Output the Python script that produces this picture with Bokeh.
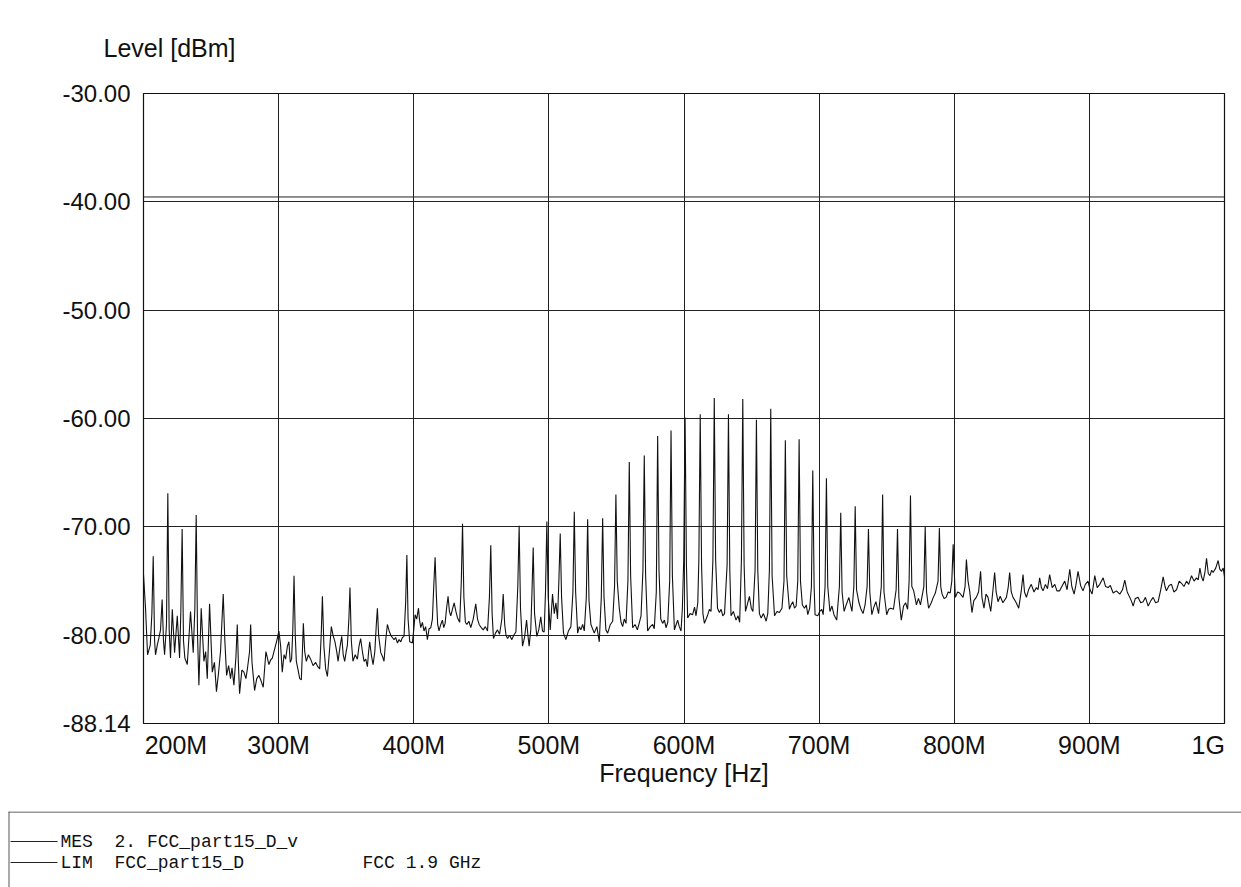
from bokeh.plotting import figure
from bokeh.models import Range1d, FixedTicker, PrintfTickFormatter
from bokeh.embed import file_html
from bokeh.resources import INLINE
from bokeh.core.properties import value

# ---------------- data (frequency in MHz, level in dBm) ----------------
mes_200_300 = [
    (200.0, -74.4), (201.5, -77.5), (203.0, -81.8), (205.0, -80.9), (206.2, -78.0), (207.2, -72.7),
    (208.2, -80.5), (208.9, -81.8), (210.2, -80.9), (211.3, -80.3), (212.6, -79.5), (213.8, -76.7),
    (214.8, -80.5), (215.6, -81.8), (217.0, -79.0), (218.0, -66.9), (219.0, -79.5), (220.0, -82.1),
    (221.3, -77.6), (223.0, -81.6), (225.0, -78.2), (226.7, -82.1), (227.6, -78.0), (228.6, -70.2),
    (229.6, -80.5), (230.6, -82.1), (232.4, -82.7), (234.8, -77.8), (236.8, -81.6), (238.0, -77.5),
    (239.0, -68.9), (240.0, -80.0), (241.0, -84.6), (242.7, -77.5), (244.7, -82.4), (246.0, -81.5),
    (247.2, -84.0), (248.9, -77.1), (250.9, -83.4), (252.5, -82.5), (254.0, -85.2), (255.5, -83.5),
    (257.0, -81.5), (259.0, -76.2), (260.2, -80.5), (261.5, -83.7), (263.0, -82.8), (264.4, -84.0),
    (265.5, -83.0), (266.9, -84.6), (268.4, -82.0), (269.4, -79.0), (270.2, -82.5), (271.1, -85.4),
    (272.8, -83.2), (274.3, -83.4), (275.8, -84.0), (277.0, -83.0), (278.5, -81.5), (279.3, -79.0),
    (280.3, -82.5), (282.2, -85.1), (283.8, -84.0), (285.4, -83.7), (287.0, -84.2), (288.6, -84.8),
    (290.6, -81.5), (292.8, -82.7), (294.0, -82.3), (295.3, -82.1), (297.2, -81.2), (299.0, -80.3),
    (300.2, -79.6),
]
mes_300_400 = [
    (301.5, -81.0), (302.7, -83.4), (304.0, -81.8), (305.2, -82.2), (306.5, -81.0), (307.6, -80.6),
    (308.6, -82.5), (309.6, -82.2), (310.5, -79.5), (311.4, -74.5), (312.3, -80.0), (313.1, -82.4),
    (314.4, -83.2), (315.6, -84.0), (316.8, -84.1), (317.6, -81.5), (318.3, -78.9), (319.3, -81.5),
    (320.5, -82.4), (322.0, -81.8), (323.7, -82.2), (325.5, -82.8), (327.4, -82.5), (329.0, -82.9),
    (330.4, -83.1), (331.5, -80.0), (332.4, -76.4), (333.5, -81.0), (334.8, -83.1), (336.1, -83.8),
    (337.6, -81.5), (339.0, -79.2), (340.3, -80.0), (341.7, -80.6), (343.0, -81.5), (344.0, -82.4),
    (345.5, -81.0), (346.7, -80.1), (347.8, -81.8), (348.9, -82.4), (350.0, -81.5), (350.9, -80.9),
    (352.0, -78.5), (352.8, -75.6), (353.8, -80.5), (355.0, -82.4), (356.7, -81.8), (358.3, -82.2),
    (359.5, -81.0), (360.7, -80.3), (362.0, -81.5), (363.2, -82.4), (364.5, -82.2), (365.7, -82.9),
    (366.6, -81.5), (367.4, -80.6), (368.6, -81.8), (369.9, -82.7), (371.2, -81.5), (372.3, -79.0),
    (373.1, -77.5), (374.0, -80.0), (375.6, -81.6), (377.0, -82.0), (378.0, -82.4), (379.2, -80.5),
    (380.5, -79.0), (381.8, -79.6), (383.0, -80.0), (384.2, -80.2), (385.4, -80.4), (386.6, -80.2),
    (387.9, -80.7), (389.2, -80.4), (390.4, -80.6), (391.6, -80.2), (392.8, -80.1), (394.0, -77.0),
    (394.9, -72.6), (395.8, -78.5), (397.0, -80.6), (399.0, -80.7), (400.0, -79.5),
]
mes_400_500 = [
    (401.0, -78.1), (402.2, -78.5), (403.5, -77.5), (404.3, -78.6), (405.2, -79.3), (406.4, -78.8),
    (407.6, -79.6), (408.8, -79.2), (410.1, -80.4), (411.3, -79.4), (412.6, -79.3), (413.8, -78.5),
    (414.8, -75.5), (415.8, -72.8), (416.8, -76.5), (417.7, -79.0), (418.7, -79.6), (420.0, -79.0),
    (421.2, -78.6), (422.2, -79.3), (423.2, -78.9), (424.3, -77.5), (425.4, -76.4), (426.4, -77.8),
    (427.4, -78.2), (428.6, -77.6), (429.9, -77.0), (431.2, -77.8), (432.4, -78.4), (434.0, -78.8),
    (435.2, -75.0), (436.1, -69.7), (437.1, -76.5), (438.2, -78.8), (439.3, -79.0), (440.8, -78.7),
    (442.2, -79.3), (444.0, -78.5), (445.9, -77.1), (447.2, -78.5), (448.4, -79.0), (450.0, -79.3),
    (451.4, -79.5), (453.0, -79.2), (454.6, -79.6), (456.0, -76.5), (457.0, -71.7), (458.0, -78.0),
    (459.0, -80.3), (460.5, -79.8), (462.0, -79.5), (463.5, -79.9), (465.2, -78.5), (466.2, -76.2),
    (467.3, -79.0), (468.3, -80.0), (469.4, -80.3), (471.0, -80.0), (472.6, -80.4), (474.0, -80.0),
    (475.6, -79.7), (477.0, -75.5), (478.0, -69.9), (479.0, -77.5), (480.5, -81.0), (482.0, -80.2),
    (483.5, -78.6), (484.5, -80.0), (485.4, -81.0), (486.6, -79.5), (487.5, -76.0), (488.4, -71.9),
    (489.4, -78.0), (491.1, -80.1), (492.5, -79.5), (494.0, -78.3), (495.3, -79.6), (496.5, -79.7),
    (497.5, -76.0), (498.5, -69.5), (499.5, -76.5),
]
mes_500_600 = [
    (501.0, -79.5), (502.7, -76.2), (504.0, -78.0), (505.2, -77.0), (506.4, -78.5), (507.4, -75.0),
    (508.4, -70.6), (509.4, -76.5), (510.8, -79.8), (512.6, -80.4), (514.5, -79.6), (516.3, -79.2),
    (517.8, -76.0), (518.8, -68.6), (519.8, -76.0), (521.3, -79.8), (522.5, -79.2), (523.7, -79.5),
    (525.0, -79.0), (526.2, -79.6), (527.7, -76.5), (528.7, -69.3), (529.7, -76.8), (531.1, -79.0),
    (533.6, -79.8), (535.5, -79.2), (537.3, -80.6), (538.8, -76.5), (539.8, -69.2), (540.8, -76.5),
    (542.2, -79.5), (543.5, -79.8), (545.5, -79.0), (547.2, -78.7), (548.6, -75.5), (549.6, -67.0),
    (550.6, -75.0), (552.1, -77.5), (553.4, -78.8), (554.6, -79.2), (555.8, -78.5), (557.1, -78.9),
    (558.5, -75.0), (559.5, -64.0), (560.5, -74.5), (562.0, -79.3), (563.8, -79.0), (565.5, -79.5),
    (567.0, -78.8), (568.2, -78.2), (569.6, -74.0), (570.6, -63.4), (571.6, -74.5), (573.1, -79.6),
    (575.0, -79.2), (576.8, -79.0), (578.0, -79.4), (579.5, -76.0), (580.5, -61.6), (581.5, -74.0),
    (582.8, -78.5), (584.2, -78.9), (585.5, -78.6), (586.7, -79.3), (588.0, -78.8), (589.4, -75.0),
    (590.4, -61.1), (591.4, -74.5), (592.9, -79.5), (594.2, -79.0), (595.3, -78.6), (596.5, -79.2),
    (597.8, -79.6), (598.8, -77.5), (599.8, -73.0), (600.8, -59.9), (601.8, -73.5), (602.7, -78.4),
]
mes_600_700 = [
    (604.5, -78.0), (606.4, -78.1), (607.8, -77.4), (608.9, -78.2), (610.2, -77.0), (611.0, -73.0),
    (612.0, -59.6), (613.0, -73.5), (614.0, -78.0), (615.1, -78.9), (616.4, -78.5), (617.6, -78.1),
    (618.8, -77.6), (620.0, -77.8), (621.4, -73.0), (622.4, -58.1), (623.4, -73.0), (624.8, -77.5),
    (626.2, -77.9), (627.5, -77.6), (628.7, -78.2), (630.0, -78.0), (631.9, -73.5), (632.9, -59.6),
    (633.9, -74.0), (634.8, -78.2), (636.5, -77.8), (638.5, -78.6), (640.0, -78.2), (641.2, -78.8),
    (642.5, -73.0), (643.5, -58.2), (644.5, -73.5), (645.5, -77.8), (646.8, -77.2), (648.4, -76.4),
    (649.8, -77.5), (651.0, -77.8), (652.6, -74.0), (653.6, -60.1), (654.6, -74.0), (655.8, -78.0),
    (657.1, -78.4), (658.8, -78.0), (660.8, -78.7), (662.0, -78.0), (663.2, -74.0), (664.2, -59.1),
    (665.2, -74.5), (667.0, -78.2), (668.8, -77.8), (670.6, -77.9), (672.5, -77.5), (674.0, -75.0),
    (675.0, -62.0), (676.0, -74.5), (678.0, -77.6), (679.2, -77.2), (680.5, -76.9), (681.8, -77.5),
    (683.0, -77.3), (684.2, -75.0), (685.2, -61.9), (686.2, -75.0), (687.6, -77.2), (689.2, -77.5),
    (690.5, -77.2), (691.6, -78.1), (693.0, -77.5), (694.3, -75.5), (695.3, -64.8), (696.3, -75.5),
    (697.0, -78.1), (699.0, -78.2), (700.5, -77.8),
]
mes_700_800 = [
    (702.0, -77.6), (703.0, -78.1), (704.4, -75.5), (705.4, -65.5), (706.4, -75.5), (708.0, -77.8),
    (709.5, -77.3), (711.0, -78.1), (713.0, -78.6), (715.0, -75.5), (716.0, -68.7), (717.0, -76.0),
    (718.5, -77.8), (720.0, -77.2), (722.0, -76.5), (723.2, -77.2), (724.3, -77.8), (725.7, -75.5),
    (726.7, -68.1), (727.7, -75.8), (729.5, -77.0), (731.0, -77.6), (732.5, -78.0), (734.0, -77.2),
    (735.5, -75.5), (736.5, -70.2), (737.5, -76.0), (739.0, -78.1), (740.5, -77.4), (742.0, -76.9),
    (744.0, -78.0), (746.0, -75.5), (747.0, -67.0), (748.0, -76.0), (750.0, -78.1), (751.5, -77.6),
    (753.0, -77.5), (755.0, -77.6), (757.0, -75.8), (758.0, -70.2), (759.0, -76.5), (760.8, -78.6),
    (762.5, -77.3), (764.0, -77.0), (765.5, -77.6), (766.6, -75.0), (767.6, -67.1), (768.6, -75.5),
    (770.0, -75.9), (772.0, -77.2), (773.5, -76.6), (775.0, -77.2), (777.5, -75.5), (778.5, -70.0),
    (779.5, -76.0), (781.0, -77.5), (783.0, -77.0), (784.5, -76.5), (786.0, -76.1), (788.0, -75.0),
    (789.0, -70.1), (790.0, -75.5), (791.0, -76.2), (792.5, -76.6), (794.0, -76.5), (795.5, -76.0),
    (797.0, -76.1), (798.2, -75.0), (799.2, -71.6), (800.8, -76.5),
]
mes_800_1000 = [
    (802.5, -76.0), (804.0, -76.1), (806.5, -76.5), (808.0, -75.5), (809.0, -73.0), (810.2, -75.0),
    (811.4, -75.9), (813.1, -77.9), (814.5, -76.8), (816.3, -76.5), (818.0, -76.0), (819.5, -74.1),
    (820.5, -76.5), (822.0, -77.5), (823.5, -76.2), (825.0, -76.5), (827.0, -77.8), (828.5, -76.0),
    (829.9, -74.2), (831.0, -76.0), (832.4, -76.9), (834.0, -76.4), (836.0, -77.0), (838.6, -76.5),
    (840.0, -75.5), (841.0, -74.2), (842.2, -76.0), (843.5, -76.5), (845.5, -76.9), (847.7, -77.5),
    (849.5, -76.0), (850.9, -74.4), (852.0, -76.0), (853.4, -76.5), (855.0, -75.8), (857.0, -75.3),
    (859.0, -76.0), (860.8, -75.6), (862.0, -75.8), (863.2, -74.7), (864.5, -75.6), (865.7, -75.9),
    (867.5, -75.3), (869.0, -75.7), (870.6, -74.4), (872.5, -75.6), (874.4, -75.3), (876.0, -75.9),
    (878.0, -75.9), (880.0, -75.4), (881.8, -75.0), (883.5, -75.8), (885.5, -73.9), (887.0, -75.5),
    (888.7, -76.2), (890.0, -75.4), (891.6, -74.1), (893.5, -75.4), (895.3, -75.9), (897.0, -75.3),
    (899.0, -75.0), (900.5, -75.8), (902.0, -76.2), (904.0, -74.5), (905.8, -75.6), (907.7, -75.3),
    (910.2, -74.7), (912.0, -75.5), (913.9, -75.6), (915.5, -75.4), (917.6, -76.1), (920.0, -75.9),
    (922.5, -76.2), (924.5, -75.8), (926.2, -74.9), (928.0, -76.0), (929.9, -76.5), (931.0, -76.8),
    (932.4, -77.3), (934.0, -76.6), (936.0, -76.5), (938.0, -77.0), (939.8, -76.9), (941.5, -76.5),
    (943.5, -77.3), (945.5, -76.8), (947.2, -76.5), (949.0, -77.0), (950.9, -76.9), (952.8, -75.8),
    (954.6, -74.6), (956.0, -75.5), (957.0, -75.9), (959.0, -75.4), (960.8, -75.3), (962.5, -76.0),
    (964.5, -75.8), (966.5, -75.0), (968.2, -75.2), (970.0, -75.5), (971.9, -75.0), (973.5, -75.3),
    (975.6, -74.5), (977.5, -75.0), (979.3, -74.7), (980.5, -74.9), (981.8, -73.8), (983.0, -74.6),
    (984.2, -75.0), (985.5, -74.2), (986.7, -72.9), (988.0, -74.3), (989.2, -74.5), (990.5, -74.0),
    (991.6, -74.2), (993.5, -73.8), (995.3, -73.1), (996.5, -73.9), (997.8, -74.1), (999.0, -73.8),
    (1000.0, -74.6),
]

limit_freq = [200.0, 1000.0]
limit_level = [-39.55, -39.55]

grid_x = [200, 300, 400, 500, 600, 700, 800, 900, 1000]
# label anchor positions (first label sits right of its grid line, last one left of it)
x_label_pos = [224, 300, 400, 500, 600, 700, 800, 900, 988]
x_tick_labels = ["200M", "300M", "400M", "500M", "600M", "700M", "800M", "900M", "1G"]
y_ticks = [-88.14, -80, -70, -60, -50, -40, -30]

legend_tags = ["MES", "LIM"]
legend_names = ["2. FCC_part15_D_v", "FCC_part15_D"]
legend_extra = "FCC 1.9 GHz"

# ---------------- assemble trace ----------------
segments = [mes_200_300, mes_300_400, mes_400_500, mes_500_600, mes_600_700, mes_700_800, mes_800_1000]
freq = [f for seg in segments for f, _ in seg]
level = [v for seg in segments for _, v in seg]

FONT = "Liberation Sans"
INK = "#111111"

p = figure(width=1241, height=811, x_range=Range1d(200, 1000), y_range=Range1d(-88.14, -30),
           output_backend="svg", toolbar_location=None,
           min_border_left=143, min_border_right=17, min_border_top=93, min_border_bottom=88)
p.outline_line_color = INK
p.outline_line_width = 1.2

p.xgrid.ticker = FixedTicker(ticks=grid_x)
p.ygrid.ticker = FixedTicker(ticks=y_ticks)
p.xgrid.grid_line_color = "#222222"
p.ygrid.grid_line_color = "#222222"

# title used as the level-axis caption
p.title.text = "Level [dBm]"
p.title.align = "left"
p.title.offset = -40
p.title.standoff = 63
p.title.text_font = FONT
p.title.text_font_size = "25px"
p.title.text_font_style = "normal"
p.title.text_color = INK

# x axis
p.xaxis.ticker = FixedTicker(ticks=x_label_pos)
p.xaxis.major_label_overrides = {t: l for t, l in zip(x_label_pos, x_tick_labels)}
p.xaxis.axis_line_color = None
p.xaxis.major_tick_line_color = None
p.xaxis.minor_tick_line_color = None
p.xaxis.major_tick_in = 0
p.xaxis.major_tick_out = 0
p.xaxis.minor_tick_out = 0
p.xaxis.major_label_standoff = 7
p.xaxis.major_label_text_font = FONT
p.xaxis.major_label_text_font_size = "25px"
p.xaxis.major_label_text_color = INK
p.xaxis.axis_label = "Frequency [Hz]"
p.xaxis.axis_label_text_font = FONT
p.xaxis.axis_label_text_font_size = "25px"
p.xaxis.axis_label_text_font_style = "normal"
p.xaxis.axis_label_text_color = INK
p.xaxis.axis_label_standoff = -3

# y axis
p.yaxis.ticker = FixedTicker(ticks=y_ticks)
p.yaxis.formatter = PrintfTickFormatter(format="%.2f")
p.yaxis.axis_line_color = None
p.yaxis.major_tick_line_color = None
p.yaxis.minor_tick_line_color = None
p.yaxis.major_tick_in = 0
p.yaxis.major_tick_out = 0
p.yaxis.minor_tick_out = 0
p.yaxis.major_label_standoff = 13
p.yaxis.major_label_text_font = FONT
p.yaxis.major_label_text_font_size = "24px"
p.yaxis.major_label_text_color = INK
p.yaxis.major_label_orientation = "horizontal"

# limit line and measurement trace
p.line(limit_freq, limit_level, line_color="#222222", line_width=1)
p.line(freq, level, line_color=INK, line_width=1.1)

# ---------------- legend / info area (pixel coordinates) ----------------
q = figure(width=1241, height=76, x_range=Range1d(0, 1241), y_range=Range1d(887, 811),
           output_backend="svg", toolbar_location=None, x_axis_type=None, y_axis_type=None,
           min_border=0, min_border_left=0, min_border_right=0, min_border_top=0, min_border_bottom=0)
q.outline_line_color = None
q.xgrid.visible = False
q.ygrid.visible = False
q.line([8, 1241], [811.5, 811.5], line_color="#333333", line_width=1)
q.line([8.5, 8.5], [811, 887], line_color="#555555", line_width=1)

row_y = [841, 862]
for yy in row_y:
    q.line([10, 57], [yy, yy], line_color="#222222", line_width=1)
q.text(x=[60, 60], y=row_y, text=legend_tags, text_font=value("Liberation Mono"),
       text_font_size="18px", text_baseline="middle", text_color=INK)
q.text(x=[114, 114], y=row_y, text=legend_names, text_font=value("Liberation Mono"),
       text_font_size="18px", text_baseline="middle", text_color=INK)
q.text(x=[362], y=[row_y[1]], text=[legend_extra], text_font=value("Liberation Mono"),
       text_font_size="18px", text_baseline="middle", text_color=INK)

open("out.html", "w").write(file_html([p, q], INLINE))
